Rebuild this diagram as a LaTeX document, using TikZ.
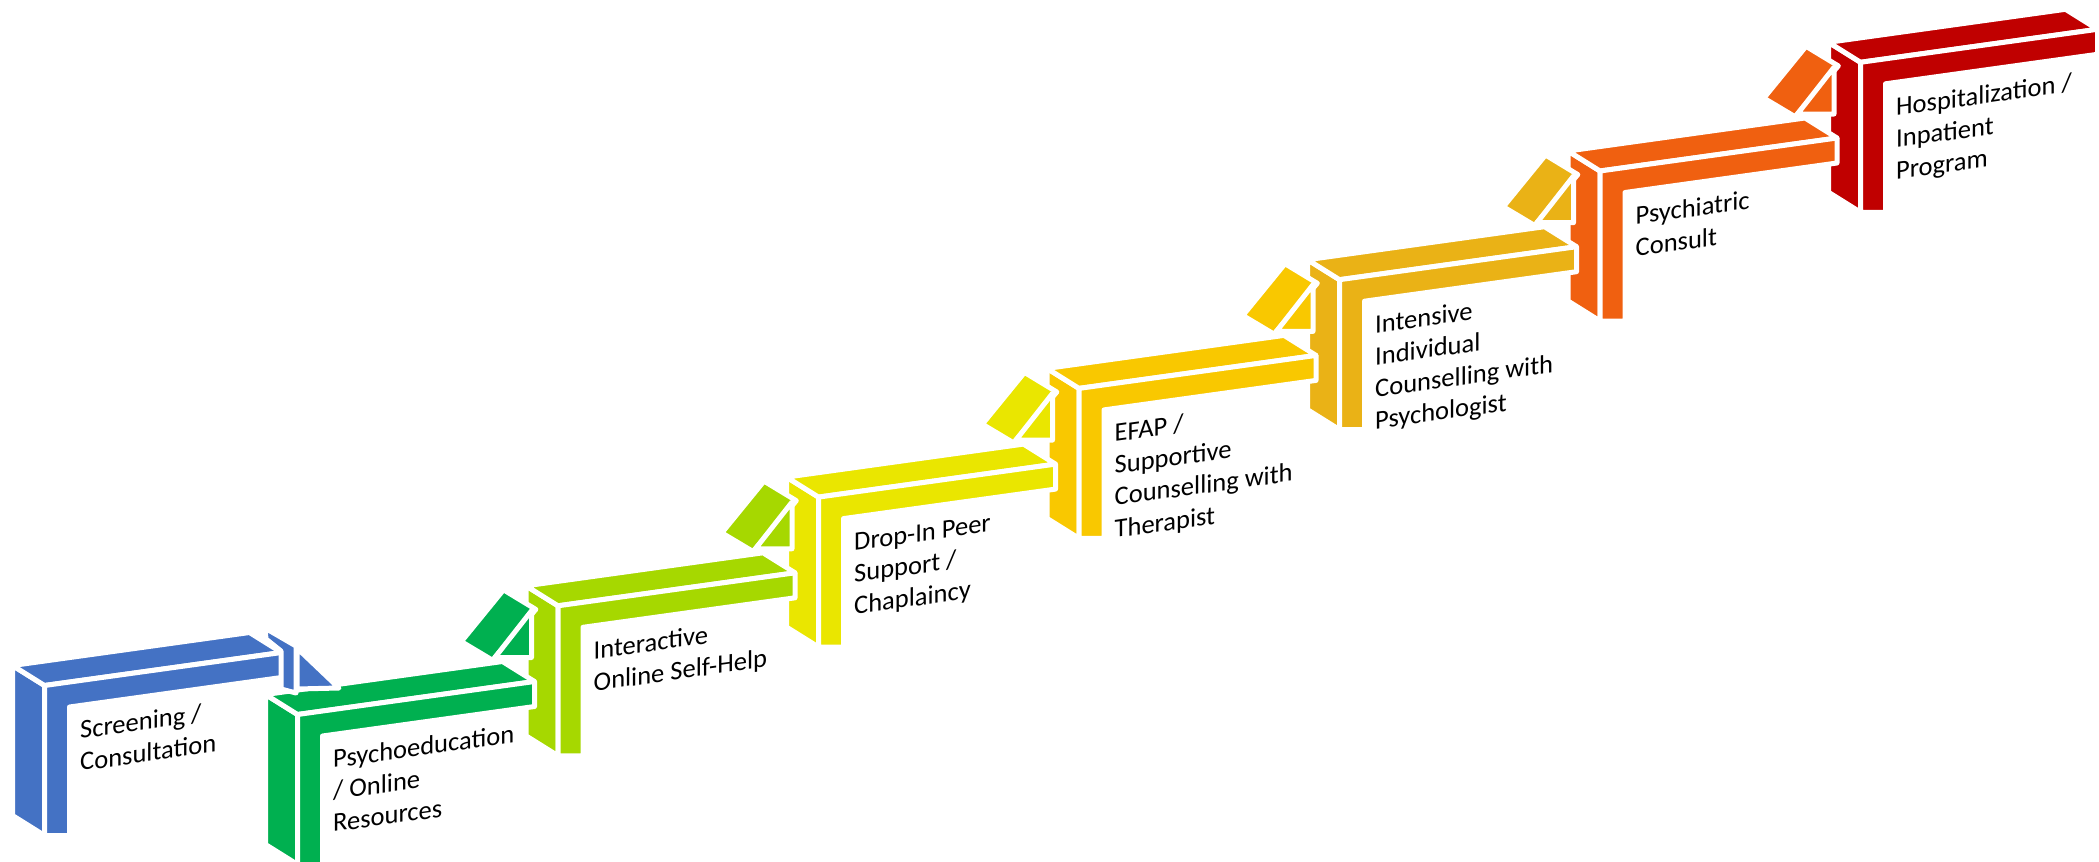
\documentclass[tikz,border=0pt]{standalone}
\usepackage{fontspec}
\setmainfont{Carlito}
\definecolor{cblue}{HTML}{4472C4}
\definecolor{cgreen}{HTML}{00B050}
\definecolor{clime}{HTML}{A6D800}
\definecolor{cyellow}{HTML}{EAE600}
\definecolor{cgold}{HTML}{F9C800}
\definecolor{camber}{HTML}{EAB216}
\definecolor{corange}{HTML}{F06010}
\definecolor{cred}{HTML}{C00000}
\tikzset{
  face/.style={fill=#1, draw=white, line width=5pt, line join=round},
  lbl/.style={anchor=base west, inner sep=0pt, yslant=0.14,
    font=\fontsize{26.5}{32}\selectfont, text=black},
}
\newcommand{\lline}[1]{\hbox{#1}}
\newcommand{\stairbody}[3]{%
  \begin{scope}[shift={(#1,#2)}]
    \path[face=#3] (0,0) -- (-32,-20) -- (-32,130) -- (0,150) -- cycle;
    \path[face=#3] (0,0) -- (-32,-20) -- (205,-53) -- (237,-33) -- cycle;
    \path[face=#3] (0,0) -- (237,-33) -- (237,-8) -- (25,21.5) -- (25,150) -- (0,150) -- cycle;
  \end{scope}}
\newcommand{\stairlink}[3]{%
  \begin{scope}[shift={(#1,#2)}]
    \path[face=#3] (206,-124.7) -- (238.3,-105.1) -- (195,-54.3) -- (163.8,-72.9) -- cycle;
    \path[face=#3] (234,-103.7) -- (234,-57) -- (197.4,-57) -- cycle;
  \end{scope}}
\newcommand{\stairtext}[4]{%
  \begin{scope}[shift={({#1+35.5},{#2+53.5})}]
    \node[lbl] (#3) at (0,0) {\vtop{#4}};
  \end{scope}}
\begin{document}
\begin{tikzpicture}[x=1pt,y=-1pt]
\fill[white] (0,0) rectangle (2099,862);
\useasboundingbox (0,0) rectangle (2099,862);
\clip (0,0) rectangle (2099,862);
% red
\stairbody{1860.5}{62.3}{cred}
\stairtext{1860.5}{62.3}{hosp}{\lline{Hospitalization /}\lline{Inpatient}\lline{Program}}
% orange
\stairbody{1600}{171}{corange}
\stairlink{1600}{171}{corange}
\stairtext{1600}{171}{psych}{\lline{Psychiatric}\lline{Consult}}
% amber
\stairbody{1339.5}{279.7}{camber}
\stairlink{1339.5}{279.7}{camber}
\stairtext{1339.5}{279.7}{intens}{\lline{Intensive}\lline{Individual}\lline{Counselling with}\lline{Psychologist}}
% gold
\stairbody{1079}{388.4}{cgold}
\stairlink{1079}{388.4}{cgold}
\stairtext{1079}{388.4}{efap}{\lline{EFAP /}\lline{Supportive}\lline{Counselling with}\lline{Therapist}}
% yellow
\stairbody{818.5}{497.1}{cyellow}
\stairlink{818.5}{497.1}{cyellow}
\stairtext{818.5}{497.1}{dropin}{\lline{Drop-In Peer}\lline{Support /}\lline{Chaplaincy}}
% lime
\stairbody{558}{605.8}{clime}
\stairlink{558}{605.8}{clime}
\stairtext{558}{605.8}{interactive}{\lline{Interactive}\lline{Online Self-Help}}
% green
\stairbody{297.5}{714.5}{cgreen}
\stairlink{297.5}{714.5}{cgreen}
\stairtext{297.5}{714.5}{psyedu}{\lline{Psychoeducation}\lline{/ Online}\lline{Resources}}
% blue
\stairbody{44.5}{685.5}{cblue}
\path[face=cblue] (265,628) -- (296,646) -- (296,693) -- (281,689) -- (281,651) -- (266,639) -- cycle;
\path[face=cblue] (297,648) -- (339,688) -- (297,689) -- cycle;
\stairtext{44.5}{685.5}{screen}{\lline{Screening /}\lline{Consultation}}
\end{tikzpicture}
\end{document}
